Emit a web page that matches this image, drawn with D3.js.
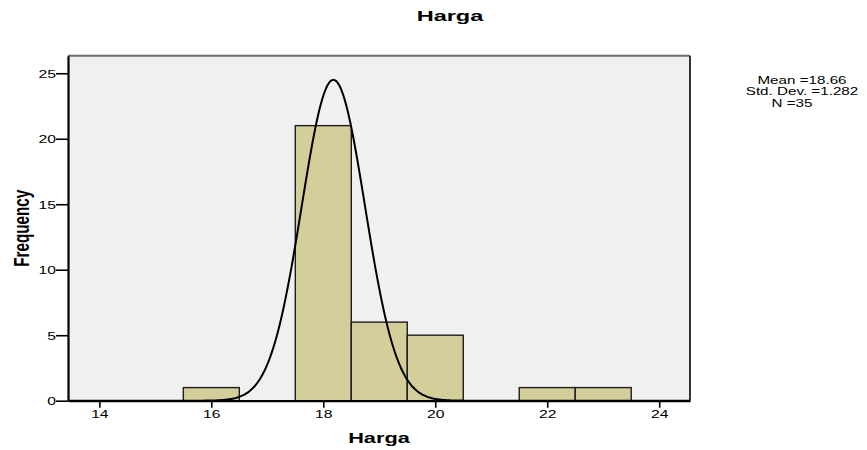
<!DOCTYPE html>
<html>
<head>
<meta charset="utf-8">
<script src="https://cdn.jsdelivr.net/npm/d3@7"></script>
<style>
  html, body { margin: 0; padding: 0; background: #ffffff; }
  svg { display: block; }
  text { font-family: "Liberation Sans", Arial, sans-serif; fill: #000; }
</style>
</head>
<body>
<svg id="chart" width="867" height="450"></svg>
<script>
// ---- data ----
const chartTitle = "Harga";
const xTitle = "Harga";
const yTitle = "Frequency";
const binStarts = [15.5, 17.5, 18.5, 19.5, 21.5, 22.5];
const binWidth = 1;
const counts = [1, 21, 6, 5, 1, 1];
const xTicks = [14, 16, 18, 20, 22, 24];
const yTicks = [0, 5, 10, 15, 20, 25];
const statsLines = ["Mean =18.66", "Std. Dev. =1.282", "N =35"];
// normal curve as drawn in the picture
const curveMean = 18.18;
const curveSD = 0.565;
const curvePeak = 24.5;

// ---- layout ----
const W = 867, H = 450;
const plotL = 68, plotR = 690, plotT = 55.7, plotB = 400.7;
const sx = 1.48; // horizontal stretch of the original rendering

const svg = d3.select("#chart");
svg.append("rect").attr("width", W).attr("height", H).attr("fill", "#ffffff");

const x = d3.scaleLinear().domain([13.44, 24.55]).range([plotL, plotR]);
const y = d3.scaleLinear().domain([0, 26.34]).range([plotB, plotT]);

// plot background
svg.append("rect")
  .attr("x", plotL).attr("y", plotT)
  .attr("width", plotR - plotL).attr("height", plotB - plotT)
  .attr("fill", "#f0f0f0");

// frame top/right
svg.append("line").attr("x1", plotL).attr("x2", plotR).attr("y1", plotT).attr("y2", plotT)
  .attr("stroke", "#6e6e6e").attr("stroke-width", 2);
svg.append("line").attr("x1", plotR).attr("x2", plotR).attr("y1", plotT).attr("y2", plotB)
  .attr("stroke", "#333333").attr("stroke-width", 2);

// bars
const bins = binStarts.map((s, i) => ({ x0: s, x1: s + binWidth, n: counts[i] }));
svg.append("g").selectAll("rect").data(bins).join("rect")
  .attr("x", d => x(d.x0))
  .attr("y", d => y(d.n))
  .attr("width", d => x(d.x1) - x(d.x0))
  .attr("height", d => y(0) - y(d.n))
  .attr("fill", "#d3ce9a")
  .attr("stroke", "#1e1e1e")
  .attr("stroke-width", 1.4);

// normal curve
svg.append("clipPath").attr("id", "plotClip").append("rect")
  .attr("x", plotL).attr("y", plotT).attr("width", plotR - plotL).attr("height", plotB - plotT);
const xs = d3.range(x.domain()[0], x.domain()[1], 0.02);
const curvePts = xs.map(v => [v, curvePeak * Math.exp(-0.5 * Math.pow((v - curveMean) / curveSD, 2))]);
svg.append("path")
  .datum(curvePts)
  .attr("clip-path", "url(#plotClip)")
  .attr("fill", "none")
  .attr("stroke", "#000")
  .attr("stroke-width", 2)
  .attr("d", d3.line().x(d => x(d[0])).y(d => y(d[1])).curve(d3.curveBasis));

// y axis
const gy = svg.append("g").attr("transform", `translate(${plotL},0)`)
  .call(d3.axisLeft(y).tickValues(yTicks).tickSize(12).tickSizeOuter(0).tickFormat(d3.format("d")));
gy.select(".domain").attr("stroke", "#000").attr("stroke-width", 2.2);
gy.selectAll(".tick line").attr("stroke", "#000").attr("stroke-width", 1.6);
gy.selectAll(".tick text")
  .attr("x", 0).attr("dy", "0.38em")
  .attr("transform", `translate(-12,0) scale(${sx},1)`)
  .style("font-size", "10.6px")
  .style("font-family", "'Liberation Sans', Arial, sans-serif")
  .attr("fill", "#000");

// x axis
const gx = svg.append("g").attr("transform", `translate(0,${plotB})`)
  .call(d3.axisBottom(x).tickValues(xTicks).tickSize(7).tickSizeOuter(0).tickFormat(d3.format("d")));
gx.select(".domain").attr("stroke", "#000").attr("stroke-width", 2.2);
gx.selectAll(".tick line").attr("stroke", "#000").attr("stroke-width", 1.6);
gx.selectAll(".tick text")
  .attr("y", 0).attr("dy", 0)
  .attr("transform", `translate(0,17.6) scale(${sx},1)`)
  .style("font-size", "10.6px")
  .style("font-family", "'Liberation Sans', Arial, sans-serif")
  .attr("fill", "#000");

// title
svg.append("text")
  .attr("x", 450).attr("y", 21)
  .attr("text-anchor", "middle")
  .attr("font-weight", "bold").attr("font-size", 14)
  .attr("textLength", 66.7).attr("lengthAdjust", "spacingAndGlyphs")
  .text(chartTitle);

// x title
svg.append("text")
  .attr("x", 379).attr("y", 443.3)
  .attr("text-anchor", "middle")
  .attr("font-weight", "bold").attr("font-size", 14)
  .attr("textLength", 61.7).attr("lengthAdjust", "spacingAndGlyphs")
  .text(xTitle);

// y title
svg.append("text")
  .attr("transform", `translate(28.5,228.3) scale(1.4,1) rotate(-90)`)
  .attr("text-anchor", "middle")
  .attr("font-weight", "bold").attr("font-size", 15.2)
  .text(yTitle);

// stats box text
const statsSx = 1.52;
const statsX = [802, 802, 792];
const statsY = [84, 95.4, 106.8];
svg.append("g").selectAll("text").data(statsLines).join("text")
  .attr("transform", (d, i) => `translate(${statsX[i]},${statsY[i]}) scale(${statsSx},1)`)
  .attr("text-anchor", "middle")
  .attr("font-size", 10)
  .text(d => d);
</script>
</body>
</html>
